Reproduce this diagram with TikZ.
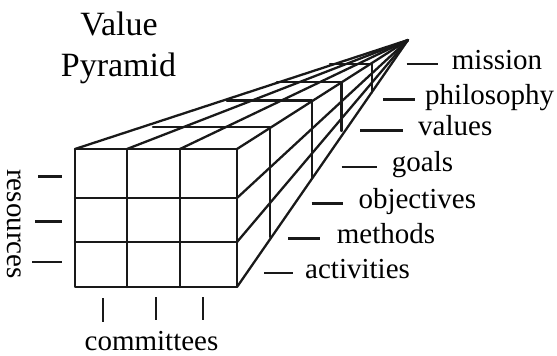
\documentclass[tikz,border=0pt]{standalone}
\usepackage{fontspec}
\setmainfont{Liberation Serif}
\begin{document}
\begin{tikzpicture}[x=1pt,y=-1pt,
  ln/.style={line width=2.3pt,line cap=round,line join=round,black!90},
  tick/.style={line width=2.4pt,black!90},
  lab/.style={inner sep=0pt,anchor=base west,font=\fontsize{29}{32}\selectfont},
  ttl/.style={inner sep=0pt,anchor=base,font=\fontsize{34}{40}\selectfont}]
\useasboundingbox (0,0) rectangle (557,356);
% key points
\coordinate (apex) at (408,40);
\coordinate (tl) at (75,149);
\coordinate (t1) at (127,149);
\coordinate (t2) at (180,149);
\coordinate (tr) at (237,149);
\coordinate (r1) at (237,198);
\coordinate (r2) at (237,242);
\coordinate (br) at (237,287);
\coordinate (bl) at (75,287);
\coordinate (b1) at (127,287);
\coordinate (b2) at (180,287);
\coordinate (l1) at (75,198);
\coordinate (l2) at (75,242);
% front face
\draw[ln] (tl) rectangle (br);
\draw[ln] (t1) -- (b1);
\draw[ln] (t2) -- (b2);
\draw[ln] (l1) -- (r1);
\draw[ln] (l2) -- (r2);
% converging edges
\foreach \p in {tl,t1,t2,tr,r1,r2,br}{\draw[ln] (\p) -- (apex);}
% slices
\coordinate (s1l) at (153,127); \coordinate (s1t) at (270,127); \coordinate (s1b) at (270,237);
\coordinate (s2l) at (226.7,100.5); \coordinate (s2t) at (311.7,100.5); \coordinate (s2b) at (311.7,178);
\coordinate (s3l) at (277,82); \coordinate (s3t) at (341.5,82); \coordinate (s3b) at (341.5,131);
\coordinate (s4l) at (330,64); \coordinate (s4t) at (371.7,64); \coordinate (s4b) at (371.7,92.5);
\foreach \s in {s1,s2,s3,s4}{\draw[ln] (\s l) -- (\s t) -- (\s b);}
% title
\node[ttl] (v) at (119,35) {Value};
\node[ttl] (p) at (118.5,76) {Pyramid};
% right labels
\coordinate (d1a) at (406.7,64);  \coordinate (d1b) at (438.3,64);
\coordinate (d2a) at (383.3,99.3); \coordinate (d2b) at (415,99.3);
\coordinate (d3a) at (360,130.5); \coordinate (d3b) at (403.3,130.5);
\coordinate (d4a) at (341.7,166.7); \coordinate (d4b) at (376.7,166.7);
\coordinate (d5a) at (311.7,203.3); \coordinate (d5b) at (343.3,203.3);
\coordinate (d6a) at (288.3,238.3); \coordinate (d6b) at (320,238.3);
\coordinate (d7a) at (264,272.7); \coordinate (d7b) at (293.3,272.7);
\foreach \i in {1,...,7}{\draw[tick] (d\i a) -- (d\i b);}
\node[lab] (mission) at (451.7,69) {mission};
\node[lab] (philo) at (425,104) {philosophy};
\node[lab] (values) at (418,135.5) {values};
\node[lab] (goals) at (391.7,171.7) {goals};
\node[lab] (obj) at (358.3,208.3) {objectives};
\node[lab] (meth) at (336.7,243.3) {methods};
\node[lab] (act) at (305,278) {activities};
% resources
\coordinate (ra1) at (38,176.5); \coordinate (rb1) at (61.5,176.5);
\coordinate (ra2) at (35,221.5); \coordinate (rb2) at (61.5,221.5);
\coordinate (ra3) at (32,262); \coordinate (rb3) at (61.5,262);
\foreach \i in {1,2,3}{\draw[tick] (ra\i) -- (rb\i);}
\node[inner sep=0pt,anchor=base,rotate=-90,font=\fontsize{29}{32}\selectfont] (res) at (8,224) {resources};
% committees
\coordinate (ca1) at (102.7,298); \coordinate (cb1) at (102.7,322);
\coordinate (ca2) at (156,297); \coordinate (cb2) at (156,320);
\coordinate (ca3) at (202.7,297); \coordinate (cb3) at (202.7,320);
\foreach \i in {1,2,3}{\draw[tick] (ca\i) -- (cb\i);}
\node[inner sep=0pt,anchor=base,font=\fontsize{29}{32}\selectfont] (com) at (151.5,350) {committees};
\end{tikzpicture}
\end{document}
